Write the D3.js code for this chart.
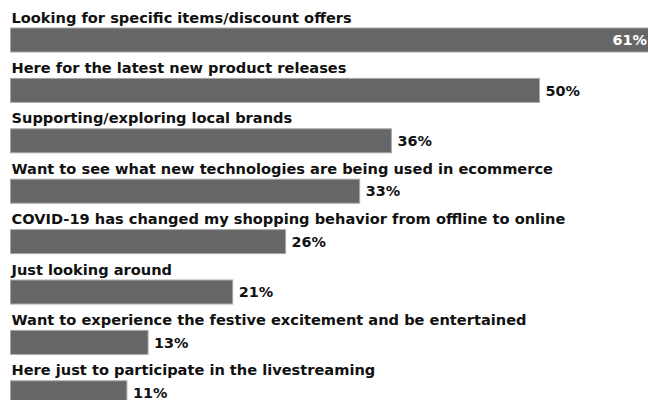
<!DOCTYPE html>
<html>
<head>
<meta charset="utf-8">
<script src="https://cdn.jsdelivr.net/npm/d3@7"></script>
<style>
  body { margin: 0; background: #fff; }
  svg { display: block; }
  text { font-family: "DejaVu Sans", sans-serif; }
</style>
</head>
<body>
<svg id="chart" width="648" height="400"></svg>
<script>
// Reasons for shopping, share of respondents (%)
const categories = [
  "Looking for specific items/discount offers",
  "Here for the latest new product releases",
  "Supporting/exploring local brands",
  "Want to see what new technologies are being used in ecommerce",
  "COVID-19 has changed my shopping behavior from offline to online",
  "Just looking around",
  "Want to experience the festive excitement and be entertained",
  "Here just to participate in the livestreaming"
];
const values = [61, 50, 36, 33, 26, 21, 13, 11];

const data = categories.map((c, i) => ({ category: c, value: values[i] }));

const svg = d3.select("#chart");
const width = 648;

const x = d3.scaleLinear().domain([0, 61]).range([10.5, 655.9]);
const y = d3.scaleBand().domain(categories).range([6, 6 + 8 * 50.4]).padding(0);

const barOffset = 22;
const barH = 24;

const row = svg.selectAll("g.row")
  .data(data)
  .join("g")
  .attr("class", "row")
  .attr("transform", d => `translate(0,${y(d.category)})`);

row.append("text")
  .attr("class", "cat")
  .attr("x", 11.5)
  .attr("y", 16.5)
  .attr("font-size", 14.6)
  .attr("font-weight", 700)
  .attr("fill", "#111")
  .text(d => d.category);

row.append("rect")
  .attr("x", x(0))
  .attr("y", barOffset)
  .attr("width", d => x(d.value) - x(0))
  .attr("height", barH)
  .attr("fill", "#666")
  .attr("stroke", "#a8a8a8")
  .attr("stroke-width", 1);

const inside = d => x(d.value) > width - 40;

row.append("text")
  .attr("x", d => inside(d) ? width - 1 : x(d.value) + 6)
  .attr("y", barOffset + barH / 2)
  .attr("dy", "0.36em")
  .attr("text-anchor", d => inside(d) ? "end" : "start")
  .attr("font-size", 14.4)
  .attr("font-weight", 700)
  .attr("fill", d => inside(d) ? "#fff" : "#111")
  .text(d => d.value + "%");
</script>
</body>
</html>
